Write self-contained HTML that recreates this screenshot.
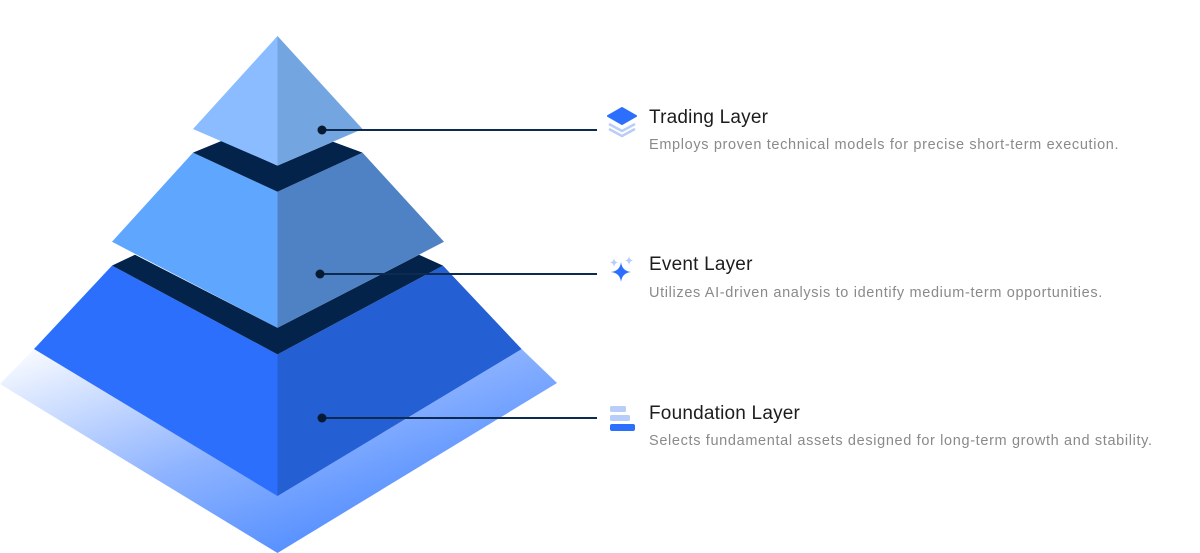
<!DOCTYPE html>
<html><head><meta charset="utf-8"><style>
html,body{margin:0;padding:0;background:#fff;width:1200px;height:553px;overflow:hidden;font-family:"Liberation Sans",sans-serif}
.t{position:absolute;left:649px;font-size:19px;letter-spacing:0.2px;color:#1d1d1f;white-space:nowrap}
.d{position:absolute;left:649px;font-size:14.5px;letter-spacing:0.65px;color:#8a8a8a;white-space:nowrap}
</style></head><body>
<svg width="1200" height="553" style="position:absolute;left:0;top:0">
<defs>
<linearGradient id="g" x1="0" y1="0" x2="1" y2="1" gradientUnits="objectBoundingBox">
<stop offset="0" stop-color="#ffffff"/><stop offset="0.45" stop-color="#8fb4ff"/><stop offset="1" stop-color="#2a74ff"/>
</linearGradient>
</defs>
<polygon points="0,384 34,349 521.6,349 557,383 277.5,553" fill="url(#g)"/>
<polygon points="112,265.6 277.5,354.4 277.5,496 34,349" fill="#2d6ffd"/>
<polygon points="443,265.6 277.5,354.4 277.5,496 521.6,349" fill="#245fd3"/>
<polygon points="112,265.6 135,254.7 277.5,327.8 419,254.7 443,265.6 277.5,354.4" fill="#04234a"/>
<polygon points="193,152.6 277.5,191.8 277.5,327.8 112,241.8" fill="#5fa6ff"/>
<polygon points="362.5,152.6 277.5,191.8 277.5,327.8 444,241.8" fill="#4f82c4"/>
<polygon points="193,152.6 222,140.7 277.5,165.6 333,141.8 362.5,152.6 277.5,191.8" fill="#04234a"/>
<polygon points="277.5,36 193,129 277.5,165.6" fill="#8bbcff"/>
<polygon points="277.5,36 362.5,129 277.5,165.6" fill="#73a5e0"/>
<g stroke="#0d2a50" stroke-width="2">
<line x1="322" y1="130" x2="597" y2="130"/>
<line x1="320" y1="274" x2="597" y2="274"/>
<line x1="322" y1="418" x2="597" y2="418"/>
</g>
<g fill="#061a33">
<circle cx="322" cy="130" r="4.5"/><circle cx="320" cy="274" r="4.5"/><circle cx="322" cy="418" r="4.5"/>
</g>
<g>
<polyline points="609,124 622,131 635,124" fill="none" stroke="#b9cdfa" stroke-width="2.5" stroke-linejoin="round"/>
<polyline points="609,129 622,136 635,129" fill="none" stroke="#b9cdfa" stroke-width="2.5" stroke-linejoin="round"/>
<polygon points="608,116 622,108 636,116 622,124" fill="#2d6ffd" stroke="#2d6ffd" stroke-width="2" stroke-linejoin="round"/>
</g>
<path d="M621,262 Q622,271 631,272 Q622,273 621,282 Q620,273 611,272 Q620,271 621,262Z" fill="#2d6ffd"/>
<path d="M614,258 Q614.5,262 618,262.5 Q614.5,263 614,267 Q613.5,263 610,262.5 Q613.5,262 614,258Z" fill="#b9cdfa"/>
<path d="M629,256 Q629.5,260 633,260.5 Q629.5,261 629,265 Q628.5,261 625,260.5 Q628.5,260 629,256Z" fill="#b9cdfa"/>
<rect x="610" y="406" width="16" height="6" rx="1.5" fill="#b9cdfa"/>
<rect x="610" y="415" width="20" height="6" rx="1.5" fill="#b9cdfa"/>
<rect x="610" y="424" width="25" height="7" rx="2" fill="#2d6ffd"/>
</svg>
<div class="t" style="top:107px">Trading Layer</div>
<div class="d" style="top:137px">Employs proven technical models for precise short-term execution.</div>
<div class="t" style="top:254px">Event Layer</div>
<div class="d" style="top:285px">Utilizes AI-driven analysis to identify medium-term opportunities.</div>
<div class="t" style="top:403px">Foundation Layer</div>
<div class="d" style="top:433px">Selects fundamental assets designed for long-term growth and stability.</div>
</body></html>
